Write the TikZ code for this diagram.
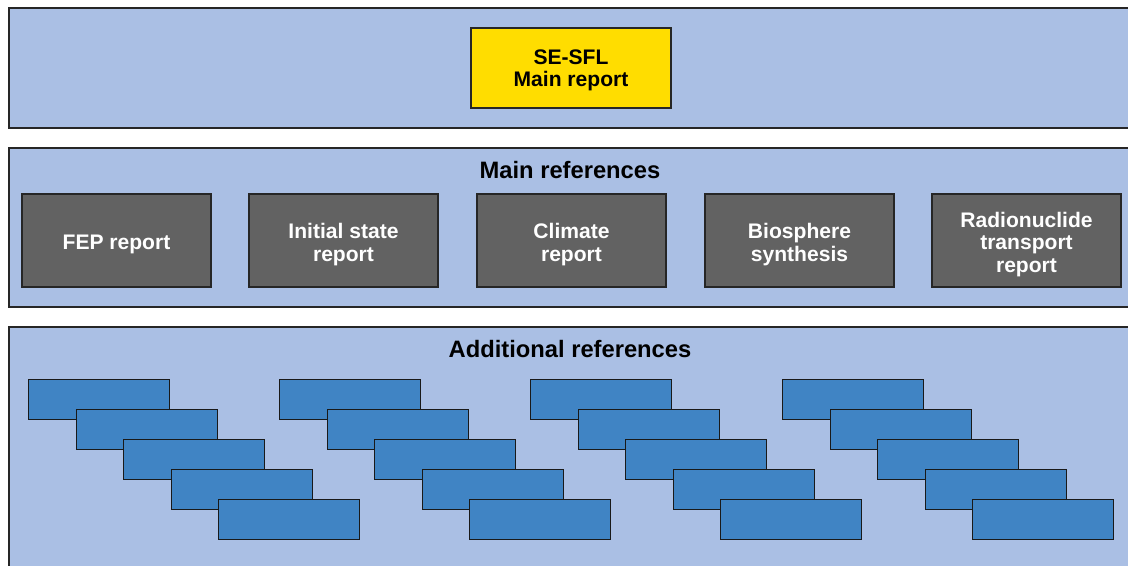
\documentclass[tikz,border=0pt]{standalone}
\usepackage{fontspec}
\setmainfont{Liberation Sans}
\begin{document}
\begin{tikzpicture}[x=0.75pt,y=-0.75pt,
  panel/.style={draw=black!85,line width=1.2pt,fill=panelblue},
  mainbox/.style={draw=black!85,line width=1pt,fill=sflyellow,minimum width=150pt,minimum height=60pt,inner sep=0pt},
  maintxt/.style={align=center,font=\bfseries\fontsize{15.8}{17}\selectfont,inner sep=0pt,yshift=-1.8pt},
  refbox/.style={draw=black!85,line width=1pt,fill=refgray,minimum width=141.75pt,minimum height=69.75pt,inner sep=0pt},
  reftxt/.style={align=center,text=white,font=\bfseries\fontsize{15.8}{17.2}\selectfont,inner sep=0pt,yshift=-3pt},
  addbox/.style={draw=black!90,line width=1.1pt,fill=addblue,minimum width=105.75pt,minimum height=30pt,inner sep=0pt},
  title/.style={font=\bfseries\fontsize{17.8}{20}\selectfont,inner sep=0pt}
]
\definecolor{panelblue}{RGB}{170,191,228}
\definecolor{sflyellow}{RGB}{255,221,0}
\definecolor{refgray}{RGB}{98,98,98}
\definecolor{addblue}{RGB}{64,132,196}
\useasboundingbox (0,0) rectangle (1128,565);
\clip (0,0) rectangle (1128,565);
% panels
\path[panel] (9,8) rectangle (1140,128);
\path[panel] (9,148) rectangle (1140,307);
\path[panel] (9,327) rectangle (1140,580);
% top
\node[mainbox,label={[maintxt]center:{SE-SFL\\Main report}}] (sfl) at (571,68) {};
% main references
\node[title] (mainref) at (570,170) {Main references};
\node[refbox,label={[reftxt]center:FEP report}] (fep) at (116.5,240.5) {};
\node[refbox,label={[reftxt]center:{Initial state\\report}}] (init) at (343.5,240.5) {};
\node[refbox,label={[reftxt]center:{Climate\\report}}] (clim) at (571.5,240.5) {};
\node[refbox,label={[reftxt]center:{Biosphere\\synthesis}}] (bio) at (799.5,240.5) {};
\node[refbox,label={[reftxt]center:{Radionuclide\\transport\\report}}] (rad) at (1026.5,240.5) {};
% additional references
\node[title] (addref) at (570,349) {Additional references};
\foreach \g/\gx in {1/28,2/279,3/530,4/782}{
  \foreach \k in {0,...,4}{
    \node[addbox,anchor=north west] (a\g\k) at ({\gx+47.5*\k},{379+30*\k}) {};
  }
}
\end{tikzpicture}
\end{document}
